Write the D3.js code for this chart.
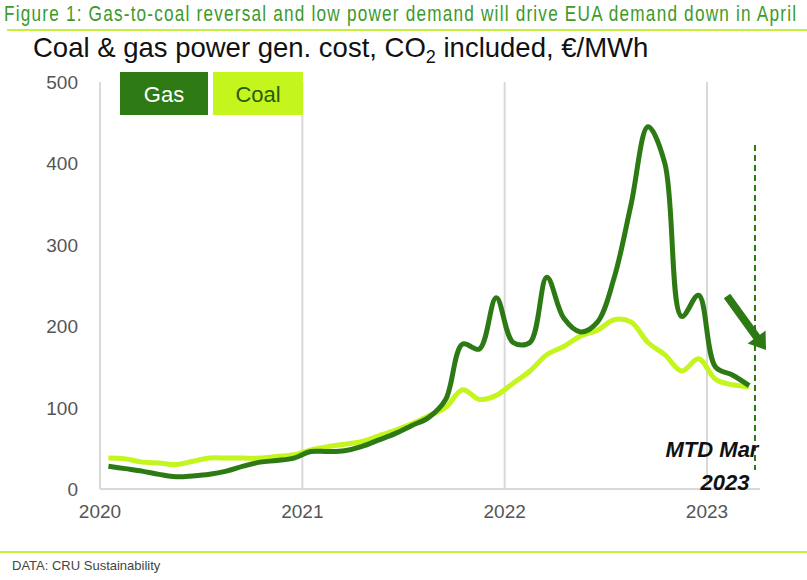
<!DOCTYPE html>
<html><head><meta charset="utf-8">
<script src="https://cdn.jsdelivr.net/npm/d3@7"></script>
<style>body{margin:0;background:#fff;font-family:"Liberation Sans",Arial,sans-serif}</style>
</head><body><svg id="c" width="807" height="580"></svg>
<script>
var startYear = 2020;
var gas = [28,25,22,18,15,16,18,22,28,33,35,38,
           46,46,47,52,60,68,78,88,110,178,172,235,
           180,180,260,210,193,205,260,350,445,400,212,238,
           150,140,127];
var coal = [38,37,33,32,30,34,38,38,38,38,40,42,
            48,52,55,58,65,72,80,90,100,122,110,115,
            130,145,165,175,188,195,208,205,180,165,145,160,
            135,128,126];
var yTicks = [0,100,200,300,400,500];
var xTicks = [2020,2021,2022,2023];

var svg = d3.select("#c");
var x = d3.scaleLinear().domain([2020,2023]).range([100,707]);
var y = d3.scaleLinear().domain([0,500]).range([489,82]);
var t = function(i){ return startYear + (i + 0.5) / 12; };

svg.append("text").attr("transform","translate(4,21) scale(0.8,1)").attr("fill","#3d9a2b").attr("font-size",21.5)
  .attr("textLength",990)
  .text("Figure 1: Gas-to-coal reversal and low power demand will drive EUA demand down in April");
svg.append("line").attr("x1",7).attr("x2",807).attr("y1",30).attr("y2",30).attr("stroke","#c6f03a").attr("stroke-width",2);
var st = svg.append("text").attr("x",33).attr("y",57).attr("font-size",27.5).attr("fill","#111");
st.append("tspan").text("Coal & gas power gen. cost, CO");
st.append("tspan").attr("font-size",18).attr("dy",6).text("2");
st.append("tspan").attr("dy",-6).text(" included, €/MWh");

svg.selectAll(".vg").data(xTicks).enter().append("line")
  .attr("x1",d=>x(d)).attr("x2",d=>x(d)).attr("y1",82).attr("y2",489).attr("stroke","#d9d9d9").attr("stroke-width",2);
svg.append("line").attr("x1",100).attr("x2",760).attr("y1",489).attr("y2",489).attr("stroke","#d9d9d9").attr("stroke-width",2);

svg.selectAll(".yt").data(yTicks).enter().append("text")
  .attr("x",78).attr("y",d=>y(d)+7).attr("text-anchor","end").attr("font-size",19).attr("fill","#555").text(d=>d);
svg.selectAll(".xt").data(xTicks).enter().append("text")
  .attr("x",d=>x(d)).attr("y",518).attr("text-anchor","middle").attr("font-size",19).attr("fill","#555").text(d=>d);

var line = d3.line().x((d,i)=>x(t(i))).y(d=>y(d)).curve(d3.curveCatmullRom.alpha(0.5));
svg.append("path").datum(coal).attr("d",line).attr("fill","none").attr("stroke","#c4f51c").attr("stroke-width",5);
svg.append("path").datum(gas).attr("d",line).attr("fill","none").attr("stroke","#2d7a15").attr("stroke-width",5);

svg.append("line").attr("x1",755).attr("x2",755).attr("y1",145).attr("y2",470)
  .attr("stroke","#2d7a15").attr("stroke-width",2).attr("stroke-dasharray","6,4");
svg.append("text").attr("x",712).attr("y",457).attr("text-anchor","middle").attr("font-size",22)
  .attr("font-weight","bold").attr("font-style","italic").attr("fill","#111").text("MTD Mar");
svg.append("text").attr("x",725).attr("y",490).attr("text-anchor","middle").attr("font-size",22)
  .attr("font-weight","bold").attr("font-style","italic").attr("fill","#111").text("2023");

// arrow
var ax1=[727,296], ax2=[766,350];
var ang=Math.atan2(ax2[1]-ax1[1],ax2[0]-ax1[0]);
var len=Math.hypot(ax2[0]-ax1[0],ax2[1]-ax1[1]);
var g=svg.append("g").attr("transform","translate("+ax1+") rotate("+(ang*180/Math.PI)+")");
g.append("path").attr("d","M0,-4 L"+(len-16)+",-4 L"+(len-16)+",-11 L"+len+",0 L"+(len-16)+",11 L"+(len-16)+",4 L0,4 Z")
  .attr("fill","#2d7a15");

// legend
svg.append("rect").attr("x",120).attr("y",72).attr("width",88).attr("height",43).attr("fill","#2d7a15");
svg.append("text").attr("x",164).attr("y",102).attr("text-anchor","middle").attr("font-size",22).attr("fill","#fff").text("Gas");
svg.append("rect").attr("x",213).attr("y",72).attr("width",90).attr("height",43).attr("fill","#c4f51c");
svg.append("text").attr("x",258).attr("y",102).attr("text-anchor","middle").attr("font-size",22).attr("fill","#2d5a10").text("Coal");

svg.append("line").attr("x1",0).attr("x2",807).attr("y1",552).attr("y2",552).attr("stroke","#c6f03a").attr("stroke-width",2);
svg.append("text").attr("x",12).attr("y",570).attr("font-size",13).attr("fill","#444").text("DATA: CRU Sustainability");
</script></body></html>
